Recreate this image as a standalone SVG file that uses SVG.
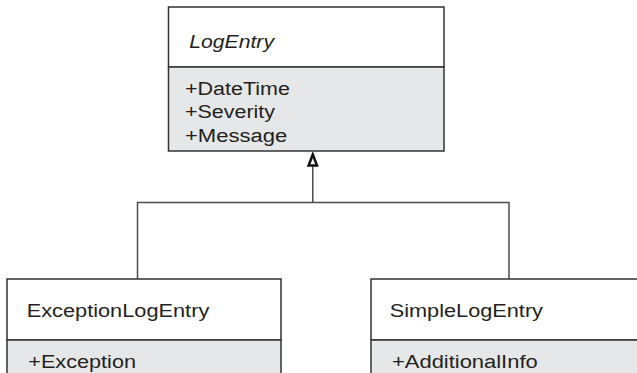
<svg xmlns="http://www.w3.org/2000/svg" width="637" height="373" viewBox="0 0 637 373">
<defs>
<style>
.box{fill:#ffffff;stroke:#333333;stroke-width:1.5}
.attr{fill:#e6e7e8;stroke:#333333;stroke-width:1.5}
.t{font-family:"Liberation Sans",Arial,sans-serif;font-size:18px;fill:#231f20}
.it{font-style:italic}
.c{fill:none;stroke:#4d4d4d;stroke-width:1.5}
.head{fill:#ffffff;stroke:#111111;stroke-width:2.5;stroke-linejoin:miter}
</style>
</defs>
<rect width="637" height="373" fill="#ffffff"/>
<g id="connectors">
<polyline class="c" points="137.5,279 137.5,202.5 509,202.5 509,279"/>
<line class="c" x1="312.8" y1="202.5" x2="312.8" y2="165.5"/>
<polygon class="head" points="312.8,154.5 308.6,165.5 317,165.5"/>
</g>
<g id="LogEntry">
<rect class="box" x="168.5" y="7" width="275.5" height="60"/>
<rect class="attr" x="168.5" y="67" width="275.5" height="84"/>
<text class="t it" x="189.3" y="48.3" textLength="84.7" lengthAdjust="spacingAndGlyphs">LogEntry</text>
<text class="t" x="185" y="95" textLength="105" lengthAdjust="spacingAndGlyphs">+DateTime</text>
<text class="t" x="185" y="118.3" textLength="90" lengthAdjust="spacingAndGlyphs">+Severity</text>
<text class="t" x="185" y="141.7" textLength="102.3" lengthAdjust="spacingAndGlyphs">+Message</text>
</g>
<g id="ExceptionLogEntry">
<rect class="box" x="7" y="279" width="274" height="61"/>
<rect class="attr" x="7" y="340" width="274" height="40"/>
<text class="t" x="26.7" y="317" textLength="182.6" lengthAdjust="spacingAndGlyphs">ExceptionLogEntry</text>
<text class="t" x="28.3" y="367.5" textLength="107.7" lengthAdjust="spacingAndGlyphs">+Exception</text>
</g>
<g id="SimpleLogEntry">
<rect class="box" x="371" y="279" width="280" height="61"/>
<rect class="attr" x="371" y="340" width="280" height="40"/>
<text class="t" x="389.7" y="317" textLength="153.3" lengthAdjust="spacingAndGlyphs">SimpleLogEntry</text>
<text class="t" x="392" y="367.5" textLength="145.7" lengthAdjust="spacingAndGlyphs">+AdditionalInfo</text>
</g>
</svg>
